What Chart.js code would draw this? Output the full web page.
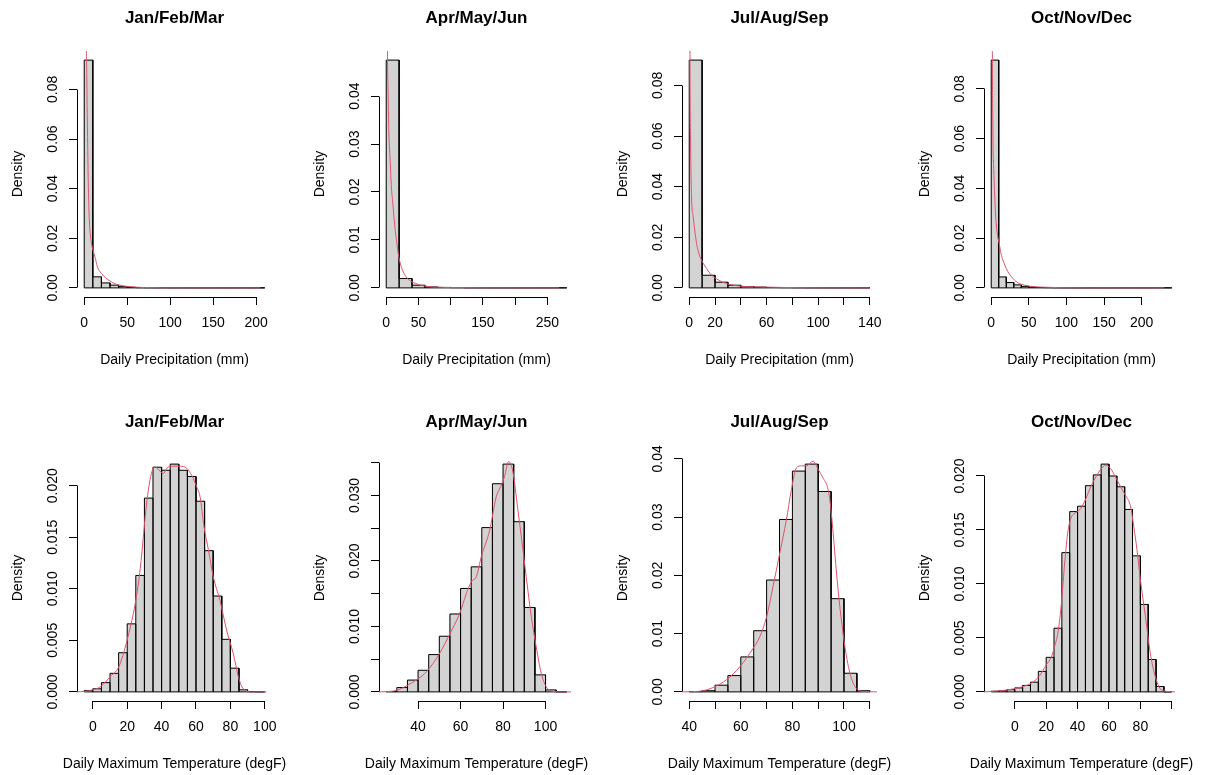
<!DOCTYPE html>
<html><head><meta charset="utf-8">
<script src="https://cdn.jsdelivr.net/npm/chart.js@4.4.1/dist/chart.umd.min.js"></script>
<style>
html,body{margin:0;padding:0;background:#fff;width:1205px;height:775px;overflow:hidden;position:relative}
canvas{position:absolute}
</style></head><body>
<script>
// ---------- text ----------
const seasons = ['Jan/Feb/Mar', 'Apr/May/Jun', 'Jul/Aug/Sep', 'Oct/Nov/Dec'];
const precipXLabel = 'Daily Precipitation (mm)';
const tempXLabel = 'Daily Maximum Temperature (degF)';
const yLabel = 'Density';

// ---------- histogram bins (density per bin) ----------
const precipBinStart = [0, 0, 0, 0];
const precipBinWidth = [10, 20, 10, 10];
const precipJFM = [0.0918, 0.00445, 0.0020, 0.0011, 0.0005, 0.00022, 0.0001, 0.00005, 0.00003, 0.00002, 0.00001, 0.00001, 0.000005, 0.000005, 0, 0, 0, 0, 0, 0, 0.000005];
const precipAMJ = [0.0475, 0.00195, 0.00056, 0.0002, 0.0001, 0.00005, 0.00002, 0.00001, 0.000005, 0, 0, 0, 0, 0.000003];
const precipJAS = [0.0900, 0.0050, 0.00225, 0.00106, 0.0005, 0.0003, 0.00015, 0.0001, 0.00005, 0.00003, 0.00002, 0.00001, 0.00001, 0.000005];
const precipOND = [0.0916, 0.0044, 0.00215, 0.0012, 0.0006, 0.0003, 0.00015, 0.0001, 0.00005, 0.00003, 0.00002, 0.00001, 0.00001, 0.000005, 0, 0, 0, 0, 0, 0, 0, 0, 0, 0.000003];

const tempBinStart = [-5, 25, 40, -15];
const tempBinWidth = [5, 5, 5, 5];
const tempJFM = [0.00013, 0.0003, 0.0009, 0.0018, 0.0038, 0.0066, 0.0113, 0.0188, 0.0218, 0.0215, 0.0221, 0.0215, 0.0209, 0.0185, 0.0137, 0.0093, 0.0051, 0.0023, 0.0002, 0.00002, 0];
const tempAMJ = [0.00005, 0.00066, 0.0018, 0.0033, 0.0057, 0.0085, 0.0119, 0.0158, 0.0191, 0.0251, 0.0318, 0.0348, 0.0260, 0.0129, 0.0026, 0.0003, 0];
const tempJAS = [0.00005, 0.0002, 0.00115, 0.0028, 0.0060, 0.0105, 0.0192, 0.0296, 0.0379, 0.0391, 0.0344, 0.0160, 0.0032, 0.0002];
const tempOND = [0.00006, 0.0001, 0.0002, 0.00037, 0.0006, 0.0009, 0.0019, 0.0032, 0.0059, 0.0129, 0.0167, 0.0172, 0.0191, 0.0201, 0.0211, 0.0200, 0.0190, 0.0169, 0.0126, 0.0081, 0.0030, 0.0005, 0];

// ---------- density curves [x, density] ----------
const precipCurveJFM = [[0.5,0.30],[2,0.12],[3,0.085],[4,0.058],[5,0.038],[6,0.027],[8,0.019],[10,0.0155],[13,0.0118],[15,0.0088],[20,0.0058],[25,0.0040],[30,0.0028],[35,0.0018],[40,0.0012],[50,0.0006],[60,0.0003],[70,0.00015],[90,0.00006],[120,0.00003],[160,0.00001],[205,0]];
const precipCurveAMJ = [[0.5,0.12],[1.5,0.06],[3,0.04],[4,0.033],[6,0.027],[8,0.021],[10,0.018],[12,0.0148],[14,0.012],[16.5,0.0093],[18.5,0.0073],[20.5,0.0058],[25,0.0038],[31,0.0023],[38,0.0014],[46,0.0009],[55,0.0005],[72,0.0002],[100,0.00007],[150,0.00003],[200,0.00001],[268,0]];
const precipCurveJAS = [[0.2,0.2],[0.6,0.09],[1,0.06],[1.8,0.036],[3.1,0.028],[4.5,0.022],[5.7,0.0176],[7,0.0145],[8.3,0.0123],[10.9,0.0097],[13.4,0.0077],[16,0.0058],[18.6,0.0044],[21,0.0036],[23.8,0.0028],[28.9,0.0017],[34,0.0011],[39,0.0007],[50,0.0004],[60,0.0003],[75,0.00015],[86,0.0001],[110,0.00004],[139.5,0]];
const precipCurveOND = [[0.5,0.3],[1.3,0.12],[2.2,0.0636],[3.3,0.048],[4.4,0.039],[5.5,0.031],[6.6,0.026],[8.5,0.021],[11,0.0172],[13,0.0138],[15.5,0.0112],[18,0.0092],[20,0.0078],[24,0.0056],[28.8,0.0038],[33,0.0026],[37.6,0.0017],[44,0.0011],[50.9,0.0007],[60,0.0004],[68.6,0.0003],[90,0.0001],[130,0.00003],[180,0.00001],[230,0]];

const tempCurveJFM = [[-9.2,0],[-5,0.00005],[0,0.0002],[4.4,0.0005],[10.2,0.0015],[15,0.0024],[19.9,0.005],[24.7,0.0086],[27.6,0.012],[31.5,0.0186],[34.4,0.0214],[36.3,0.0218],[39.2,0.0214],[41.1,0.0212],[43,0.0217],[46.9,0.0219],[50.8,0.0219],[54.6,0.0217],[57.5,0.021],[60.4,0.0199],[62.4,0.0189],[64.7,0.016],[67.2,0.0138],[70,0.0112],[73.9,0.0089],[77.8,0.006],[81.7,0.0037],[84.6,0.0015],[87.5,0.0003],[93,0],[101,0]];
const tempCurveAMJ = [[21.6,0],[28,0.0001],[31.4,0.0004],[35,0.001],[40,0.002],[44,0.0031],[50,0.0058],[55,0.0089],[59.6,0.012],[62.7,0.015],[65,0.0168],[67.4,0.0176],[69.8,0.0207],[73.7,0.0247],[76.8,0.0298],[79.2,0.0316],[80.7,0.0329],[82.6,0.0352],[84.6,0.0337],[87,0.0278],[89,0.0227],[90.9,0.0176],[93.3,0.0115],[95.6,0.0069],[98,0.0028],[100.3,0.0008],[103,0.0001],[106,0],[112,0]];
const tempCurveJAS = [[37.2,0],[40,0.00003],[45.4,0.0002],[50,0.0009],[54.5,0.0021],[59.6,0.0043],[64.8,0.0075],[67.4,0.0095],[70,0.0129],[72.5,0.0181],[75.1,0.0238],[77.7,0.0296],[79.6,0.0347],[81.6,0.0385],[83.5,0.0388],[85.5,0.0388],[88,0.0396],[90,0.0382],[91.9,0.0367],[93.5,0.0353],[94.5,0.033],[95.8,0.0273],[97.1,0.0204],[99,0.0123],[101,0.006],[102.9,0.0023],[104.8,0.0006],[107,0.0001],[112.8,0]];
const tempCurveOND = [[-19.6,0],[-15,0.00004],[-9.5,0.0001],[0,0.0003],[5.3,0.0005],[10.5,0.0008],[15.8,0.0015],[20,0.0025],[23.2,0.0032],[25.3,0.0042],[27.4,0.0054],[29.5,0.0079],[31.6,0.0116],[33.7,0.0147],[35.8,0.0161],[38.9,0.0166],[42.1,0.017],[45.3,0.0179],[48.4,0.019],[51.6,0.0199],[54.7,0.0206],[57.9,0.021],[61,0.0207],[64.2,0.0199],[67.4,0.019],[70.5,0.0182],[73.7,0.0172],[75.8,0.0153],[77.9,0.0131],[80,0.0104],[83.2,0.007],[86.3,0.0036],[89.5,0.0014],[92.6,0.0003],[95.8,0.00006],[102,0]];

// ---------- ticks ----------
const precipXTicks = [[0,50,100,150,200],[0,50,100,150,200,250],[0,20,40,60,80,100,120,140],[0,50,100,150,200]];
const precipXTickLabels = [['0','50','100','150','200'],['0','50','','150','','250'],['0','20','','60','','100','','140'],['0','50','100','150','200']];
const precipYTicks = [[0,0.02,0.04,0.06,0.08],[0,0.01,0.02,0.03,0.04],[0,0.02,0.04,0.06,0.08],[0,0.02,0.04,0.06,0.08]];
const precipYTickLabels = [['0.00','0.02','0.04','0.06','0.08'],['0.00','0.01','0.02','0.03','0.04'],['0.00','0.02','0.04','0.06','0.08'],['0.00','0.02','0.04','0.06','0.08']];
const tempXTicks = [[0,20,40,60,80,100],[40,60,80,100],[40,50,60,70,80,90,100,110],[0,20,40,60,80,100]];
const tempXTickLabels = [['0','20','40','60','80','100'],['40','60','80','100'],['40','','60','','80','','100',''],['0','20','40','60','80','']];
const tempYTicks = [[0,0.005,0.01,0.015,0.02],[0,0.005,0.01,0.015,0.02,0.025,0.03,0.035],[0,0.01,0.02,0.03,0.04],[0,0.005,0.01,0.015,0.02]];
const tempYTickLabels = [['0.000','0.005','0.010','0.015','0.020'],['0.000','','0.010','','0.020','','0.030',''],['0.00','0.01','0.02','0.03','0.04'],['0.000','0.005','0.010','0.015','0.020']];

// ---------- layout ----------
const COL_LEFT = [0, 302, 605, 907];
const COL_W = [302, 303, 302, 298];
const ROW_TOP = [-33, 371];
const H = 404;
const AREA = {left: 77, right: 272, top: 84, bottom: 330};
const XTITLE_Y = 392.7;
const FONT = '"Liberation Sans", Arial, Helvetica, sans-serif';

Chart.defaults.font.family = FONT;
Chart.defaults.color = '#000';
const measure = document.createElement('canvas').getContext('2d');
measure.font = '14px ' + FONT;

// R-style axis lines (first to last tick) and an unsqueezed x-axis title
const rAxis = {
  id: 'rAxis',
  afterDraw(chart, args, opts) {
    const {ctx, chartArea, scales} = chart;
    const x = scales.x, y = scales.y;
    const al = v => Math.round(v - 0.5) + 0.5;
    const xt = x.ticks, yt = y.ticks;
    ctx.save();
    ctx.strokeStyle = '#000';
    ctx.lineWidth = 1;
    ctx.beginPath();
    const by = al(chartArea.bottom);
    ctx.moveTo(al(x.getPixelForValue(xt[0].value)), by);
    ctx.lineTo(al(x.getPixelForValue(xt[xt.length - 1].value)), by);
    const lx = al(chartArea.left);
    ctx.moveTo(lx, al(y.getPixelForValue(yt[0].value)));
    ctx.lineTo(lx, al(y.getPixelForValue(yt[yt.length - 1].value)));
    ctx.stroke();
    if (opts && opts.xTitle) {
      ctx.fillStyle = '#000';
      ctx.font = '14px ' + FONT;
      ctx.textAlign = 'center';
      ctx.textBaseline = 'middle';
      ctx.fillText(opts.xTitle, (chartArea.left + chartArea.right) / 2, XTITLE_Y);
    }
    ctx.restore();
  }
};

const precipDens = [precipJFM, precipAMJ, precipJAS, precipOND];
const precipCurves = [precipCurveJFM, precipCurveAMJ, precipCurveJAS, precipCurveOND];
const tempDens = [tempJFM, tempAMJ, tempJAS, tempOND];
const tempCurves = [tempCurveJFM, tempCurveAMJ, tempCurveJAS, tempCurveOND];

function makePanel(p, row, col) {
  const W = COL_W[col];
  const cv = document.createElement('canvas');
  cv.width = W; cv.height = H;
  cv.style.left = COL_LEFT[col] + 'px';
  cv.style.top = ROW_TOP[row] + 'px';
  cv.style.width = W + 'px';
  cv.style.height = H + 'px';
  document.body.appendChild(cv);

  const n = p.dens.length;
  const end = p.start + p.width * n;
  const span = end - p.start;
  const ymax = Math.max(...p.dens);
  const bars = p.dens.map((d, i) => ({x: p.start + p.width * (i + 0.5), y: d}));
  // rectangle outlines of the bins (as R's hist draws them), traced from the same bins
  const outline = [];
  p.dens.forEach((d, i) => {
    const b0 = p.start + p.width * i, b1 = b0 + p.width;
    outline.push({x: b0, y: 0}, {x: b0, y: d}, {x: b1, y: d}, {x: b1, y: 0});
  });
  const widest = Math.max(...p.yl.map(s => measure.measureText(s).width));
  const grid = {display: true, drawOnChartArea: false, drawTicks: true, tickLength: 8, color: '#000', lineWidth: 1, offset: false};

  new Chart(cv, {
    type: 'bar',
    data: {datasets: [
      {type: 'line', data: p.curve.map(([x, y]) => ({x, y})), borderColor: '#DF536B', borderWidth: 1, pointRadius: 0, cubicInterpolationMode: 'monotone', order: 0},
      {type: 'line', data: outline, borderColor: '#000', borderWidth: 1, pointRadius: 0, tension: 0, order: 1},
      {type: 'line', data: [{x: p.start, y: 0}, {x: end, y: 0}], borderColor: '#000', borderWidth: 1, pointRadius: 0, order: 2},
      {type: 'bar', data: bars, backgroundColor: '#D3D3D3', borderWidth: 0, barPercentage: 1, categoryPercentage: 1, inflateAmount: 0.3, order: 3}
    ]},
    options: {
      responsive: false, animation: false, devicePixelRatio: 1,
      events: [],
      layout: {padding: {left: 0, top: 0, bottom: 0, right: W - AREA.right}},
      plugins: {
        legend: {display: false},
        tooltip: {enabled: false},
        title: {display: true, text: p.title, fullSize: false, color: '#000', font: {size: 17, weight: 'bold'}, padding: {top: 41.3, bottom: 22.3}},
        rAxis: {xTitle: p.xlab}
      },
      scales: {
        x: {
          type: 'linear', min: p.start - 0.04 * span, max: end + 0.04 * span, offset: false, bounds: 'data',
          afterBuildTicks: s => { s.ticks = p.xt.map(v => ({value: v})); },
          afterFit: s => { s.height = H - AREA.bottom; },
          grid: grid, border: {display: false},
          ticks: {autoSkip: false, maxRotation: 0, minRotation: 0, padding: 9.3, font: {size: 14}, color: '#000', callback: (v, i) => p.xl[i]}
        },
        y: {
          type: 'linear', min: -0.04 * ymax, max: 1.04 * ymax, bounds: 'data',
          afterBuildTicks: s => { s.ticks = p.yt.map(v => ({value: v})); },
          afterFit: s => { s.width = AREA.left; },
          grid: grid, border: {display: false},
          ticks: {autoSkip: false, minRotation: 90, maxRotation: 90, crossAlign: 'center', padding: 15.7 - widest / 2, font: {size: 14}, color: '#000', callback: (v, i) => p.yl[i]},
          title: {display: true, text: yLabel, font: {size: 14}, color: '#000', padding: {top: 9.9, bottom: 0}}
        }
      }
    },
    plugins: [rAxis]
  });
}

for (let c = 0; c < 4; c++) {
  makePanel({title: seasons[c], xlab: precipXLabel, start: precipBinStart[c], width: precipBinWidth[c], dens: precipDens[c], curve: precipCurves[c],
             xt: precipXTicks[c], xl: precipXTickLabels[c], yt: precipYTicks[c], yl: precipYTickLabels[c]}, 0, c);
  makePanel({title: seasons[c], xlab: tempXLabel, start: tempBinStart[c], width: tempBinWidth[c], dens: tempDens[c], curve: tempCurves[c],
             xt: tempXTicks[c], xl: tempXTickLabels[c], yt: tempYTicks[c], yl: tempYTickLabels[c]}, 1, c);
}
</script>
</body></html>
